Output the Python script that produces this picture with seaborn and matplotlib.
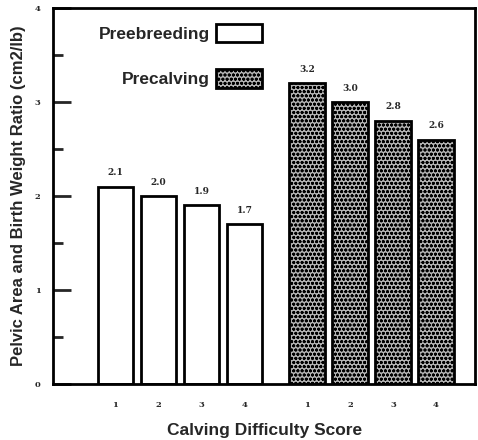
import matplotlib
matplotlib.use("Agg")
import matplotlib.pyplot as plt
import seaborn as sns
import pandas as pd

scores = ["1", "2", "3", "4"]
preebreeding = [2.1, 2.0, 1.9, 1.7]
precalving = [3.2, 3.0, 2.8, 2.6]
value_labels_pre = ["2.1", "2.0", "1.9", "1.7"]
value_labels_cal = ["3.2", "3.0", "2.8", "2.6"]

sns.set_theme(style="white")
plt.rcParams["font.family"] = ["Liberation Sans", "DejaVu Sans"]
plt.rcParams["hatch.linewidth"] = 0.9

# bar slots: second group shifted right with a wider gap
pos_pre = [i for i in range(len(scores))]
pos_cal = [i + 4.45 for i in range(len(scores))]

df_pre = pd.DataFrame({"pos": pos_pre, "ratio": preebreeding, "score": scores})
df_cal = pd.DataFrame({"pos": pos_cal, "ratio": precalving, "score": scores})

fig = plt.figure(figsize=(4.78, 4.4), dpi=100)
ax = fig.add_axes([0.111, 0.127, 0.883, 0.855])

sns.barplot(data=df_pre, x="pos", y="ratio", native_scale=True, width=0.82,
            color="white", edgecolor="black", linewidth=2, label="Preebreeding", ax=ax)
n_pre = len(ax.patches)
sns.barplot(data=df_cal, x="pos", y="ratio", native_scale=True, width=0.82,
            color="#b4b4b4", edgecolor="black", linewidth=2, label="Precalving", ax=ax)
for p in ax.patches[n_pre:]:
    p.set_hatch("oooo")

for x, v, t in zip(pos_pre + pos_cal, preebreeding + precalving,
                   value_labels_pre + value_labels_cal):
    ax.text(x, v + 0.1, t, ha="center", va="bottom", fontsize=6.5,
            family="DejaVu Serif", fontweight="bold")

ax.set_xlim(-1.45, 8.36)
ax.set_ylim(0, 4)
ax.set_xticks(pos_pre + pos_cal)
ax.set_xticklabels(scores + scores, family="DejaVu Serif", fontsize=6, fontweight="bold")
ax.tick_params(axis="x", length=0, pad=12)
ax.set_yticks([0, 1, 2, 3, 4])
ax.set_yticks([0.5, 1.5, 2.5, 3.5], minor=True)
ax.set_yticklabels(["0", "1", "2", "3", "4"], family="DejaVu Serif", fontsize=6, fontweight="bold")
ax.tick_params(axis="y", which="major", direction="in", length=13, width=2, pad=9, left=True)
ax.tick_params(axis="y", which="minor", direction="in", length=7, width=2, left=True)

for s in ax.spines.values():
    s.set_color("black")
    s.set_linewidth(2)

ax.set_xlabel("Calving Difficulty Score", fontsize=12.5, fontweight="bold", labelpad=10)
ax.set_ylabel("Pelvic Area and Birth Weight Ratio (cm2/lb)", fontsize=12, fontweight="bold", labelpad=6)

leg = ax.legend(loc="upper right", bbox_to_anchor=(0.531, 1.0), frameon=False,
                markerfirst=False, handlelength=2.65, handleheight=1.27,
                labelspacing=1.55, handletextpad=0.3, fontsize=12.5)
for t in leg.get_texts():
    t.set_fontweight("bold")

fig.savefig("out.png", dpi=100)
